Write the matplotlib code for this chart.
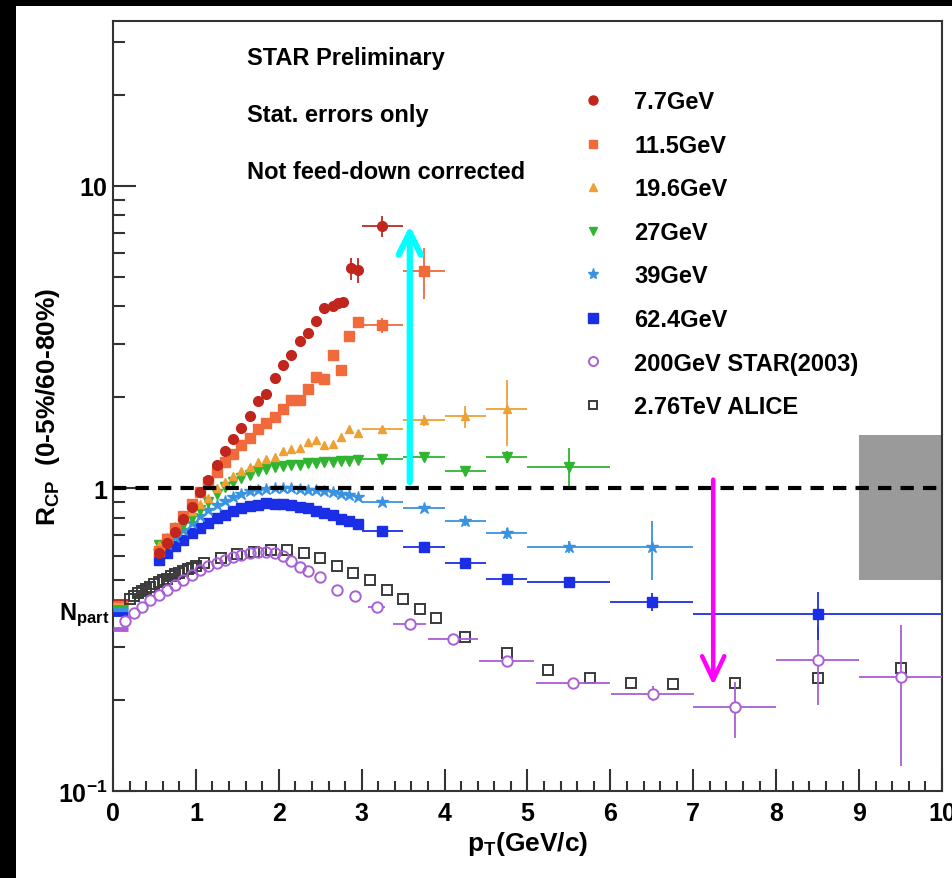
import numpy as np
import matplotlib.pyplot as plt
import matplotlib.transforms as mtransforms
from matplotlib.lines import Line2D
from matplotlib.patches import Rectangle
from matplotlib.ticker import LogLocator, NullFormatter, MultipleLocator

plt.rcParams['font.family'] = ['Liberation Sans', 'DejaVu Sans']
plt.rcParams['font.weight'] = 'bold'
plt.rcParams['axes.labelweight'] = 'bold'
plt.rcParams['mathtext.fontset'] = 'custom'
plt.rcParams['mathtext.rm'] = 'Liberation Sans:bold'
plt.rcParams['mathtext.it'] = 'Liberation Sans:bold'
plt.rcParams['mathtext.bf'] = 'Liberation Sans:bold'

# ---------------------------------------------------------------- data
pt_bes = [0.55, 0.65, 0.75, 0.85, 0.95, 1.05, 1.15, 1.25, 1.35, 1.45, 1.55, 1.65, 1.75,
          1.85, 1.95, 2.05, 2.15, 2.25, 2.35, 2.45, 2.55, 2.65, 2.75, 2.85, 2.95]

# 7.7 GeV
pt_77 = [0.55, 0.65, 0.75, 0.85, 0.95, 1.05, 1.15, 1.25, 1.35, 1.45, 1.55, 1.65, 1.75,
         1.85, 1.95, 2.05, 2.15, 2.25, 2.35, 2.45, 2.55, 2.65, 2.72, 2.78]
r_77 = [0.61, 0.66, 0.72, 0.79, 0.87, 0.97, 1.07, 1.20, 1.33, 1.46, 1.59, 1.73, 1.94,
        2.06, 2.31, 2.55, 2.76, 3.07, 3.26, 3.57, 3.95, 4.01, 4.10, 4.13]
pt_77w = [2.87, 2.96, 3.25]
r_77w = [5.35, 5.27, 7.37]
ex_77w = [0.04, 0.04, 0.25]
ey_77w = [0.45, 0.5, 0.6]

# 11.5 GeV
r_115 = [0.62, 0.68, 0.74, 0.81, 0.89, 0.97, 1.05, 1.13, 1.22, 1.30, 1.39, 1.47, 1.57,
         1.65, 1.72, 1.83, 1.96, 1.96, 2.13, 2.33, 2.30, 2.76, 2.46, 3.19, 3.55]
pt_115w = [3.25, 3.75]
r_115w = [3.47, 5.23]
ex_115w = [0.25, 0.25]
ey_115w = [0.2, 1.0]

# 19.6 GeV
r_196 = [0.65, 0.69, 0.75, 0.79, 0.84, 0.89, 0.93, 1.00, 1.05, 1.10, 1.14, 1.18, 1.22,
         1.25, 1.27, 1.33, 1.35, 1.36, 1.42, 1.45, 1.39, 1.40, 1.48, 1.57, 1.53]
pt_196w = [3.25, 3.75, 4.25, 4.75]
r_196w = [1.57, 1.68, 1.73, 1.83]
ex_196w = [0.25, 0.25, 0.25, 0.25]
ey_196w = [0.04, 0.07, 0.14, 0.45]

# 27 GeV
r_27 = [0.65, 0.68, 0.72, 0.76, 0.80, 0.85, 0.905, 0.96, 1.01, 1.05, 1.08, 1.11, 1.14,
        1.16, 1.18, 1.19, 1.20, 1.20, 1.21, 1.21, 1.22, 1.22, 1.23, 1.23, 1.24]
pt_27w = [3.25, 3.75, 4.25, 4.75, 5.5]
r_27w = [1.25, 1.27, 1.14, 1.27, 1.18]
ex_27w = [0.25, 0.25, 0.25, 0.25, 0.5]
ey_27w = [0.03, 0.04, 0.04, 0.06, 0.18]

# 39 GeV
r_39 = [0.62, 0.655, 0.69, 0.73, 0.77, 0.81, 0.85, 0.88, 0.91, 0.94, 0.96, 0.98, 0.99,
        0.995, 1.0, 1.0, 1.0, 0.995, 0.99, 0.985, 0.98, 0.97, 0.96, 0.95, 0.94]
pt_39w = [3.25, 3.75, 4.25, 4.75, 5.5, 6.5]
r_39w = [0.90, 0.865, 0.78, 0.71, 0.64, 0.64]
ex_39w = [0.25, 0.25, 0.25, 0.25, 0.5, 0.5]
ey_39w = [0.02, 0.02, 0.03, 0.03, 0.03, 0.14]

# 62.4 GeV
r_624 = [0.58, 0.61, 0.645, 0.675, 0.71, 0.74, 0.77, 0.80, 0.82, 0.845, 0.86, 0.875, 0.885,
         0.895, 0.89, 0.89, 0.88, 0.87, 0.865, 0.845, 0.83, 0.815, 0.795, 0.78, 0.765]
pt_624w = [3.25, 3.75, 4.25, 4.75, 5.5, 6.5, 8.5]
r_624w = [0.725, 0.643, 0.569, 0.503, 0.492, 0.423, 0.386]
ex_624w = [0.25, 0.25, 0.25, 0.25, 0.5, 0.5, 1.5]
ey_624w = [0.01, 0.015, 0.015, 0.015, 0.015, 0.03, 0.07]

# 200 GeV STAR (2003)
pt_200 = [0.15, 0.25, 0.35, 0.45, 0.55, 0.65, 0.75, 0.85, 0.95, 1.05, 1.15, 1.25, 1.35,
          1.45, 1.55, 1.65, 1.75, 1.85, 1.95, 2.05, 2.15, 2.25, 2.35, 2.5, 2.7, 2.92]
r_200 = [0.365, 0.388, 0.407, 0.428, 0.446, 0.463, 0.481, 0.50, 0.519, 0.537, 0.553, 0.568,
         0.582, 0.595, 0.605, 0.612, 0.617, 0.617, 0.612, 0.60, 0.575, 0.552, 0.535, 0.51,
         0.463, 0.44]
pt_200w = [3.18, 3.58, 4.1, 4.75, 5.55, 6.51, 7.5, 8.5, 9.5]
r_200w = [0.407, 0.357, 0.318, 0.27, 0.228, 0.21, 0.19, 0.272, 0.238]
ex_200w = [0.1, 0.2, 0.3, 0.33, 0.45, 0.5, 0.5, 0.5, 0.5]
ey_200w = [0.005, 0.006, 0.007, 0.008, 0.008, 0.012, 0.04, 0.08, 0.117]

# 2.76 TeV ALICE
pt_alice = [0.2, 0.25, 0.3, 0.35, 0.4, 0.45, 0.5, 0.55, 0.6, 0.65, 0.7, 0.75, 0.8, 0.85,
            0.9, 0.95, 1.0, 1.1, 1.3, 1.5, 1.7, 1.9, 2.1, 2.3, 2.5, 2.7, 2.9, 3.1, 3.3,
            3.5, 3.7, 3.9, 4.25, 4.75, 5.25, 5.75, 6.25, 6.75, 7.5, 8.5, 9.5]
r_alice = [0.43, 0.44, 0.45, 0.458, 0.466, 0.474, 0.482, 0.49, 0.497, 0.504, 0.512, 0.52,
           0.527, 0.534, 0.541, 0.548, 0.555, 0.568, 0.59, 0.607, 0.618, 0.626, 0.628,
           0.614, 0.59, 0.556, 0.527, 0.50, 0.463, 0.432, 0.40, 0.372, 0.324, 0.286,
           0.252, 0.237, 0.228, 0.226, 0.228, 0.237, 0.255]

# Npart scaling levels (7.7 ... 200 GeV)
npart = [0.425, 0.418, 0.412, 0.405, 0.397, 0.385, 0.343]
sys_lo, sys_hi = 0.5, 1.5
labels = ["7.7GeV", "11.5GeV", "19.6GeV", "27GeV", "39GeV", "62.4GeV",
          "200GeV STAR(2003)", "2.76TeV ALICE"]

c77, c115, c196, c27 = '#c0261c', '#f06a3c', '#eea035', '#2fb52f'
c39, c624, c200, calice = '#3a93e0', '#1a2ee6', '#a95fd6', '#3a3a3a'

# ---------------------------------------------------------------- figure
fig = plt.figure(figsize=(9.53, 8.79), dpi=100, facecolor='black')
fig.patches.append(Rectangle((16 / 953, 0), 1, 1 - 7 / 879, transform=fig.transFigure,
                             facecolor='white', edgecolor='none', zorder=-10))
ax = fig.add_axes([113 / 953, 1 - 792 / 879, 829 / 953, 770 / 879])
ax.set_yscale('log')
ax.set_xlim(0, 10)
ax.set_ylim(0.1, 35.1)

# systematic box and unity line
ax.add_patch(Rectangle((9, sys_lo), 1, sys_hi - sys_lo, facecolor='#9a9a9a',
                       edgecolor='none', zorder=1))
ax.axhline(1, color='black', lw=3, ls=(0, (3.2, 2.2)), zorder=6)

# Npart bands
ax.hlines(npart, 0, 0.18, colors=[c77, c115, c196, c27, c39, c624, c200], lw=3.5, zorder=3)

ekw = dict(ls='none', elinewidth=1.3, capsize=0)
# ALICE
ax.plot(pt_alice, r_alice, ls='none', marker='s', ms=6.5, mfc='none', mec=calice, mew=1.4, zorder=3)
# 200 GeV
ax.plot(pt_200, r_200, ls='none', marker='o', ms=7.5, mfc='none', mec=c200, mew=1.4, zorder=3)
ax.errorbar(pt_200w, r_200w, xerr=ex_200w, yerr=ey_200w, marker='o', ms=7.5, mfc='white',
            mec=c200, mew=1.4, color=c200, zorder=3, **ekw)
# 62.4
ax.plot(pt_bes, r_624, ls='none', marker='s', ms=7, color=c624, zorder=4)
ax.errorbar(pt_624w, r_624w, xerr=ex_624w, yerr=ey_624w, marker='s', ms=7, color=c624,
            zorder=4, **ekw)
# 39
ax.plot(pt_bes, r_39, ls='none', marker='*', ms=9, color=c39, zorder=4)
ax.errorbar(pt_39w, r_39w, xerr=ex_39w, yerr=ey_39w, marker='*', ms=9, color=c39,
            zorder=4, **ekw)
# 27
ax.plot(pt_bes, r_27, ls='none', marker='v', ms=6.5, color=c27, zorder=4)
ax.errorbar(pt_27w, r_27w, xerr=ex_27w, yerr=ey_27w, marker='v', ms=6.5, color=c27,
            zorder=4, **ekw)
# 19.6
ax.plot(pt_bes, r_196, ls='none', marker='^', ms=6, color=c196, zorder=4)
ax.errorbar(pt_196w, r_196w, xerr=ex_196w, yerr=ey_196w, marker='^', ms=6, color=c196,
            zorder=4, **ekw)
# 11.5
ax.plot(pt_bes, r_115, ls='none', marker='s', ms=6.5, color=c115, zorder=5)
ax.errorbar(pt_115w, r_115w, xerr=ex_115w, yerr=ey_115w, marker='s', ms=6.5, color=c115,
            zorder=5, **ekw)
# 7.7
ax.plot(pt_77, r_77, ls='none', marker='o', ms=7, color=c77, zorder=5)
ax.errorbar(pt_77w, r_77w, xerr=ex_77w, yerr=ey_77w, marker='o', ms=7, color=c77,
            zorder=5, **ekw)

# arrows
ax.annotate('', xy=(3.58, 7.4), xytext=(3.58, 1.05),
            arrowprops=dict(arrowstyle='->,head_length=0.8,head_width=0.4', color='#00ffff',
                            lw=4.5, mutation_scale=20, shrinkA=0, shrinkB=0), zorder=7)
ax.annotate('', xy=(7.24, 0.224), xytext=(7.24, 1.07),
            arrowprops=dict(arrowstyle='->,head_length=0.85,head_width=0.4', color='#ff00ff',
                            lw=3.2, mutation_scale=20, shrinkA=0, shrinkB=0), zorder=7)

# texts
ax.text(0.1616, 0.953, "STAR Preliminary", transform=ax.transAxes, fontsize=17, va='center')
ax.text(0.1616, 0.879, "Stat. errors only", transform=ax.transAxes, fontsize=17, va='center')
ax.text(0.1616, 0.805, "Not feed-down corrected", transform=ax.transAxes, fontsize=17,
        va='center')

handles = [
    Line2D([], [], ls='none', marker='o', ms=6.5, color=c77),
    Line2D([], [], ls='none', marker='s', ms=6, color=c115),
    Line2D([], [], ls='none', marker='^', ms=6, color=c196),
    Line2D([], [], ls='none', marker='v', ms=6, color=c27),
    Line2D([], [], ls='none', marker='*', ms=8, color=c39),
    Line2D([], [], ls='none', marker='s', ms=6.5, color=c624),
    Line2D([], [], ls='none', marker='o', ms=6.5, mfc='none', mec=c200, mew=1.4),
    Line2D([], [], ls='none', marker='s', ms=6, mfc='none', mec=calice, mew=1.4),
]
ax.legend(handles, labels, loc='upper left', bbox_to_anchor=(0.572, 0.910), frameon=False,
          fontsize=17, handlelength=0.5, handletextpad=1.5, labelspacing=0.87,
          borderpad=0, borderaxespad=0)

# axes styling
for sp in ax.spines.values():
    sp.set_linewidth(1.5)
    sp.set_color('#333333')
ax.set_xticks(range(0, 11))
ax.xaxis.set_minor_locator(MultipleLocator(0.2))
ax.set_yticks([0.1, 1, 10], labels=['10$^{-1}$', '1', '10'])
ax.yaxis.set_minor_locator(LogLocator(base=10, subs=np.arange(2, 10)))
ax.yaxis.set_minor_formatter(NullFormatter())
ax.tick_params(which='both', direction='in', top=False, right=False, width=1.5,
               color='#333333', labelsize=18)
ax.tick_params(axis='x', which='major', length=16, pad=7)
ax.tick_params(axis='x', which='minor', length=7)
ax.tick_params(axis='y', which='major', length=16.5, pad=4)
ax.tick_params(axis='y', which='minor', length=8.5)

ax.text(-0.004, 0.385, "N$_{\\mathrm{part}}$", transform=mtransforms.blended_transform_factory(
    ax.transAxes, ax.transData), ha='right', va='center', fontsize=17)

ax.set_ylabel("R$_{\\mathrm{CP}}$  (0-5%/60-80%)", fontsize=19, fontweight='bold')
ax.yaxis.set_label_coords(-0.062, 0.5)
ax.set_xlabel("p$_{\\mathrm{T}}$(GeV/c)", fontsize=19, fontweight='bold', va='top')
ax.xaxis.set_label_coords(0.5, -0.05)

fig.savefig('out.png', dpi=100, facecolor=fig.get_facecolor())
